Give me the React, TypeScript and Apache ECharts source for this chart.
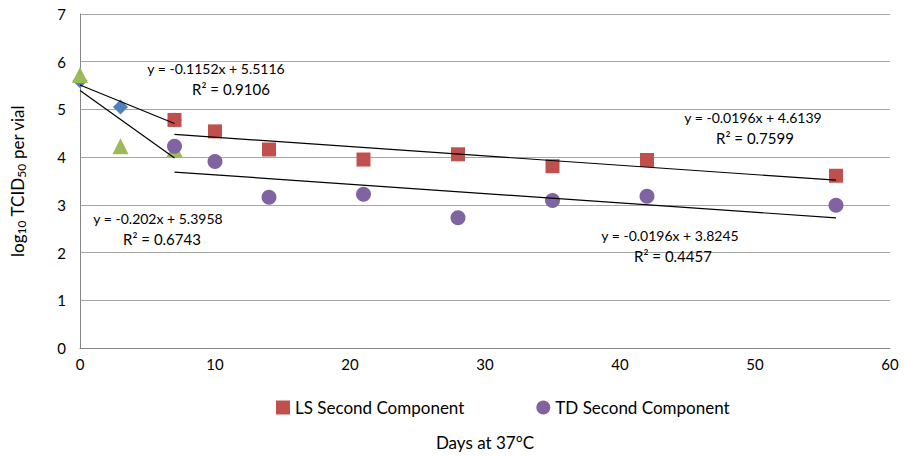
import React, { useEffect, useRef } from "react";
import * as echarts from "echarts";

const firstDays = [0, 3, 7];
const lsFirst = [5.6, 5.05, 4.78];
const tdFirst = [5.72, 4.23, 4.17];
const secondDays = [7, 10, 14, 21, 28, 35, 42, 56];
const lsSecond = [4.78, 4.54, 4.16, 3.95, 4.06, 3.81, 3.94, 3.61];
const tdSecond = [4.23, 3.91, 3.16, 3.22, 2.73, 3.09, 3.18, 2.99];
// trendlines: [slope, intercept, xStart, xEnd]
const trendLines = [
  [-0.1152, 5.5116, 0, 7],
  [-0.202, 5.3958, 0, 7],
  [-0.0196, 4.6139, 7, 56],
  [-0.0196, 3.8245, 7, 56],
];
const trendLabels = [
  { eq: "y = -0.1152x + 5.5116", r2: "R² = 0.9106", x: 216, y: 68, rx: 231 },
  { eq: "y = -0.202x + 5.3958", r2: "R² = 0.6743", x: 158, y: 218, rx: 162 },
  { eq: "y = -0.0196x + 4.6139", r2: "R² = 0.7599", x: 753, y: 117, rx: 755 },
  { eq: "y = -0.0196x + 3.8245", r2: "R² = 0.4457", x: 670, y: 235, rx: 673 },
];

const FONT = "Lato, 'Open Sans', sans-serif";

export default function App() {
  const ref = useRef<HTMLDivElement>(null);
  useEffect(() => {
    const chart = echarts.init(ref.current!, null, { renderer: "svg" });
    const lineSeries = trendLines.map((t, i) => ({
      name: "trend" + i,
      type: "line",
      data: [
        [t[2], t[0] * t[2] + t[1]],
        [t[3], t[0] * t[3] + t[1]],
      ],
      symbol: "none",
      lineStyle: { color: "#000", width: 1.2 },
      z: 3,
      silent: true,
    }));
    const graphics: any[] = [];
    trendLabels.forEach((l) => {
      graphics.push({
        type: "text",
        x: l.x,
        y: l.y,
        style: { text: l.eq, font: `14px ${FONT}`, fill: "#000", align: "center", verticalAlign: "middle" },
        z: 10,
      });
      graphics.push({
        type: "text",
        x: l.rx,
        y: l.y + 21,
        style: { text: l.r2, font: `15px ${FONT}`, fill: "#000", align: "center", verticalAlign: "middle" },
        z: 10,
      });
    });
    chart.setOption({
      animation: false,
      backgroundColor: "#fff",
      textStyle: { fontFamily: FONT },
      grid: { left: 80, right: 16, top: 14, bottom: 105 },
      legend: {
        data: [
          { name: "LS Second Component", icon: "rect" },
          { name: "TD Second Component", icon: "circle" },
        ],
        top: 394,
        left: 271,
        itemWidth: 14,
        itemHeight: 14,
        itemGap: 72,
        textStyle: { fontSize: 17, color: "#000", fontFamily: FONT },
      },
      xAxis: {
        type: "value",
        min: 0,
        max: 60,
        interval: 10,
        name: "Days at 37°C",
        nameLocation: "middle",
        nameGap: 86,
        nameTextStyle: { fontSize: 17, color: "#000", fontFamily: FONT },
        axisLine: { lineStyle: { color: "#868686", width: 1 } },
        axisTick: { show: false },
        axisLabel: { fontSize: 15, color: "#000", margin: 8 },
        splitLine: { show: false },
      },
      yAxis: {
        type: "value",
        min: 0,
        max: 7,
        interval: 1,
        name: "{a|log}{s|10}{a| TCID}{s|50}{a| per vial}",
        nameLocation: "middle",
        nameGap: 53,
        nameRotate: 90,
        nameTextStyle: {
          rich: {
            a: { fontSize: 17, color: "#000", fontFamily: FONT },
            s: { fontSize: 12, color: "#000", fontFamily: FONT, padding: [8, 0, 0, 0] },
          },
        },
        axisLine: { show: true, lineStyle: { color: "#868686", width: 1 } },
        axisTick: { show: false },
        axisLabel: { fontSize: 15, color: "#000", margin: 14 },
        splitLine: { lineStyle: { color: "#a6a6a6", width: 1 } },
      },
      series: [
        {
          name: "LS First Component",
          type: "scatter",
          data: firstDays.map((d, i) => [d, lsFirst[i]]),
          symbol: "diamond",
          symbolSize: 15,
          itemStyle: { color: "#4F81BD", opacity: 1 },
          z: 2,
        },
        {
          name: "TD First Component",
          type: "scatter",
          data: firstDays.map((d, i) => [d, tdFirst[i]]),
          symbol: "triangle",
          symbolSize: 16,
          itemStyle: { color: "#9BBB59", opacity: 1 },
          z: 2,
        },
        {
          name: "LS Second Component",
          type: "scatter",
          data: secondDays.map((d, i) => [d, lsSecond[i]]),
          symbol: "rect",
          symbolSize: 14,
          itemStyle: { color: "#C0504D", opacity: 1 },
          z: 2,
        },
        {
          name: "TD Second Component",
          type: "scatter",
          data: secondDays.map((d, i) => [d, tdSecond[i]]),
          symbol: "circle",
          symbolSize: 15,
          itemStyle: { color: "#8064A2", opacity: 1 },
          z: 2,
        },
        ...lineSeries,
      ],
      graphic: graphics,
    });
    return () => chart.dispose();
  }, []);
  return (
    <div
      ref={ref}
      style={{ position: "fixed", left: 0, top: 0, width: 906, height: 456 }}
    />
  );
}
